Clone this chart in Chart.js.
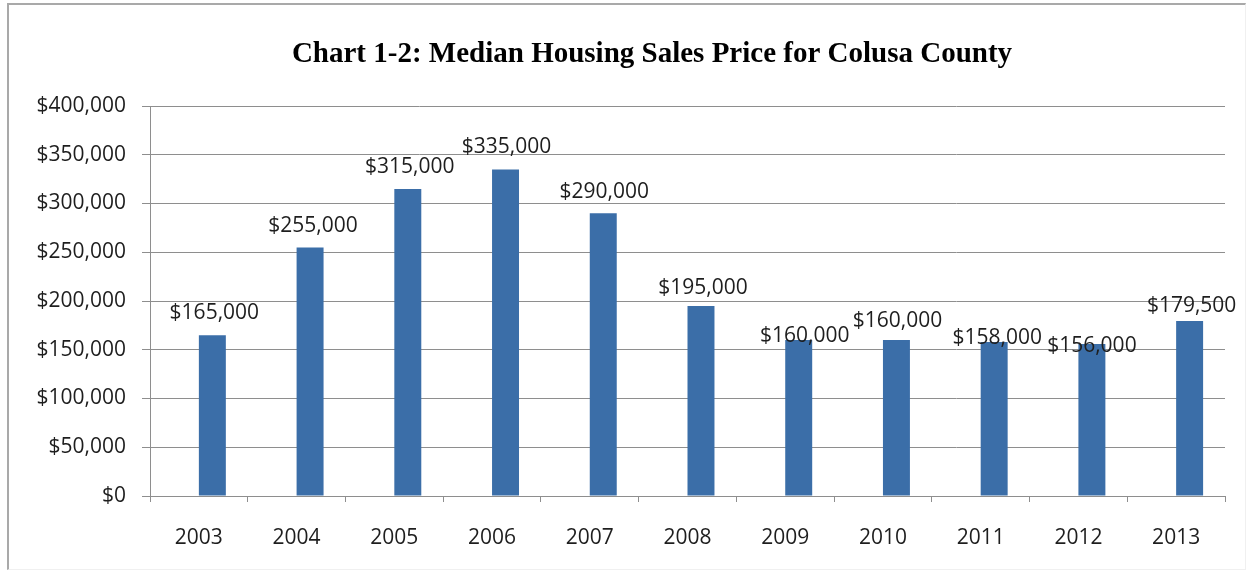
<!DOCTYPE html>
<html>
<head>
<meta charset="utf-8">
<script src="https://cdn.jsdelivr.net/npm/chart.js@4.4.1/dist/chart.umd.min.js"></script>
<style>
  html, body { margin: 0; padding: 0; background: #fff; }
  #wrap { position: relative; width: 1249px; height: 571px; overflow: hidden; }
  #frame { position: absolute; left: 7px; top: 3px; width: 1236px; height: 564px;
           border-top: 2px solid #a9a9a9; border-left: 2px solid #a9a9a9;
           border-right: 1px solid #f0f0f0; border-bottom: 1px solid #f0f0f0; pointer-events: none; }
  canvas { position: absolute; left: 0; top: 0; }
</style>
</head>
<body>
<div id="wrap">
  <canvas id="c" width="1249" height="571"></canvas>
  <div id="frame"></div>
</div>
<script>
const years = ['2003','2004','2005','2006','2007','2008','2009','2010','2011','2012','2013'];
const otherSeries = [0,0,0,0,0,0,0,0,0,0,0];
const medianPrice = [165000,255000,315000,335000,290000,195000,160000,160000,158000,156000,179500];
const yTicks = [0,50000,100000,150000,200000,250000,300000,350000,400000];
const chartTitle = 'Chart 1-2: Median Housing Sales Price for Colusa County';
// label nudges (px) relative to each bar top centre
const labelDx = [2,3,2,1,1,2,6,1,3,0,2];
const labelDy = [-22,-21,-22,-22,-21,-18,-4,-19,-4,2,-15];

const fmt = v => '$' + v.toLocaleString('en-US');
const TXT = '#1e1e1e';
const GRID = '#8e8e8e';
const FONT = "'Open Sans', sans-serif";

const valueLabels = {
  id: 'valueLabels',
  afterDatasetsDraw(chart) {
    const meta = chart.getDatasetMeta(1);
    const ctx = chart.ctx;
    ctx.save();
    ctx.font = "21px " + FONT;
    ctx.fillStyle = TXT;
    ctx.textAlign = 'center';
    ctx.textBaseline = 'middle';
    meta.data.forEach((bar, i) => {
      ctx.fillText(fmt(medianPrice[i]), bar.x + labelDx[i], bar.y + labelDy[i]);
    });
    ctx.restore();
  }
};

// centre the title a little right of the canvas centre, as in the original
const titleShift = {
  id: 'titleShift',
  afterLayout(chart) {
    const t = chart.titleBlock;
    if (t) { t.left = 79; t.right = chart.chartArea.right; }
  }
};

new Chart(document.getElementById('c'), {
  type: 'bar',
  data: {
    labels: years,
    datasets: [
      { label: 'Series 1', data: otherSeries, backgroundColor: '#3b6ea8', borderWidth: 0 },
      { label: 'Median Housing Sales Price', data: medianPrice, backgroundColor: '#3b6ea8', borderWidth: 0 }
    ]
  },
  options: {
    responsive: false,
    animation: false,
    devicePixelRatio: 1,
    layout: { padding: { top: 20, left: 0, right: 24, bottom: 0 } },
    datasets: { bar: { categoryPercentage: 0.552, barPercentage: 1.0 } },
    plugins: {
      legend: { display: false },
      tooltip: { enabled: false },
      title: {
        display: true,
        text: chartTitle,
        color: '#000',
        font: { family: "'Liberation Serif', serif", size: 29, weight: 'bold', lineHeight: 1.2 },
        padding: { top: 17, bottom: 34.2 }
      }
    },
    scales: {
      x: {
        grid: { display: true, drawOnChartArea: false, offset: true, tickLength: 6, color: GRID },
        border: { display: true, color: GRID, width: 1 },
        ticks: { color: TXT, font: { family: FONT, size: 21 }, padding: 23, maxRotation: 0 },
        afterFit: s => { s.height = 75; }
      },
      y: {
        min: 0, max: 400000,
        afterBuildTicks: s => { s.ticks = yTicks.map(v => ({ value: v })); },
        grid: { color: GRID, tickLength: 8 },
        border: { display: true, color: GRID, width: 1 },
        ticks: { color: TXT, font: { family: FONT, size: 21 }, padding: 16, callback: v => fmt(v) },
        afterFit: s => { s.width = 150; }
      }
    }
  },
  plugins: [valueLabels, titleShift]
});
</script>
</body>
</html>
